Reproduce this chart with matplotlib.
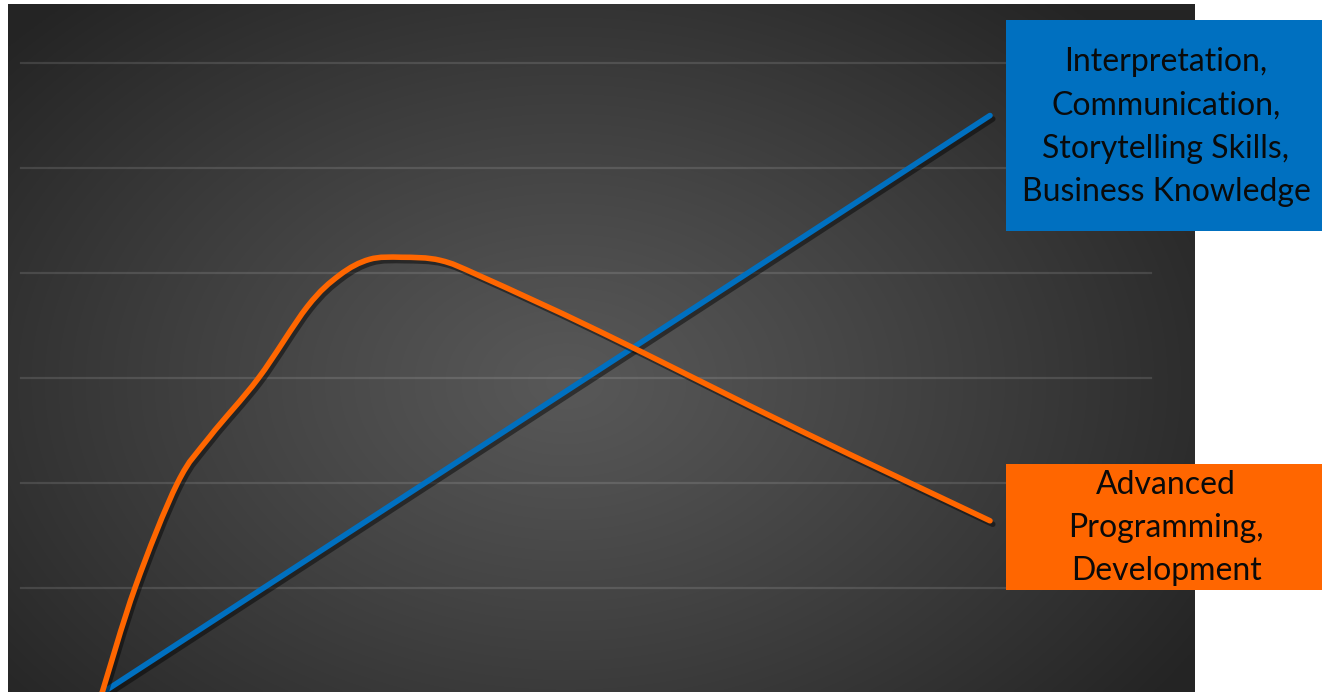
import numpy as np
import matplotlib
matplotlib.use('Agg')
import matplotlib.pyplot as plt
from matplotlib.patches import Rectangle, PathPatch
from matplotlib.path import Path
import matplotlib.patheffects as pe

# data (x: arbitrary progression units, y: grid units)
tech_x = [0.00, 0.30, 0.68, 0.97, 1.41, 1.85, 2.14, 2.41, 2.70, 3.05, 3.43,
          4.49, 6.29, 8.00]
tech_y = [0.00, 1.01, 2.00, 2.44, 3.00, 3.68, 3.98, 4.13, 4.15, 4.12, 3.96,
          3.44, 2.50, 1.64]
soft_x = [0.0, 8.0]
soft_y = [0.0, 5.50]
grid_levels = [1, 2, 3, 4, 5, 6]

soft_label = 'Interpretation,\nCommunication,\nStorytelling Skills,\nBusiness Knowledge'
tech_label = 'Advanced\nProgramming,\nDevelopment'

BLUE = '#0070C0'
ORANGE = '#FF6600'

plt.rcParams['font.family'] = ['Lato', 'DejaVu Sans']


def smooth_path(xs, ys):
    # Catmull-Rom through the points, drawn as cubic Bezier segments
    p = np.column_stack([xs, ys]).astype(float)
    pts = np.vstack([p[0], p, p[-1]])
    verts, codes = [p[0]], [Path.MOVETO]
    for i in range(1, len(pts) - 2):
        c1 = pts[i] + (pts[i + 1] - pts[i - 1]) / 6
        c2 = pts[i + 1] - (pts[i + 2] - pts[i]) / 6
        verts += [c1, c2, pts[i + 1]]
        codes += [Path.CURVE4] * 3
    return Path(verts, codes)


W, H = 1322, 692
fig = plt.figure(figsize=(W / 100, H / 100), dpi=100)
fig.patch.set_facecolor('white')

# axes spans px 8..1195 horizontally, 4..692 vertically
ax = fig.add_axes([8 / W, 0, (1195 - 8) / W, (692 - 4) / H])
xlim = ((8 - 102) / 111, (1195 - 102) / 111)
ylim = (1 / 105, (693 - 4) / 105)
ax.set_xlim(*xlim)
ax.set_ylim(*ylim)
ax.axis('off')

# radial gradient backdrop
gx, gy = np.meshgrid(np.linspace(0, 1, 400), np.linspace(0, 1, 240))
r = np.sqrt(((gx - 0.47) / 0.62) ** 2 + ((gy - 0.55) / 0.75) ** 2)
r = np.clip(r, 0, 1)
shade = (0.345 - (0.345 - 0.145) * r ** 1.1)
bg = np.dstack([shade, shade, shade])
ax.imshow(bg, extent=[xlim[0], xlim[1], ylim[0], ylim[1]], origin='upper',
          aspect='auto', zorder=0, interpolation='bilinear')

for lvl in grid_levels:
    ax.plot([(21 - 102) / 111, (1151 - 102) / 111], [lvl, lvl],
            color='white', alpha=0.12, linewidth=1.6, zorder=1)

shadow = [pe.SimpleLineShadow(offset=(2, -2.5), shadow_color='black', alpha=0.45),
          pe.Normal()]
ax.plot(soft_x, soft_y, color=BLUE, linewidth=4.0, solid_capstyle='round',
        path_effects=shadow, zorder=3)
tech = PathPatch(smooth_path(tech_x, tech_y), fill=False, edgecolor=ORANGE,
                 linewidth=4.0, capstyle='round', joinstyle='round',
                 path_effects=shadow, zorder=4)
ax.add_patch(tech)

# label boxes on the right
fig.patches.append(Rectangle((1006 / W, 1 - 231 / H), (W - 1006) / W, (231 - 20) / H,
                             transform=fig.transFigure, facecolor=BLUE,
                             edgecolor='none', zorder=5))
fig.patches.append(Rectangle((1006 / W, 1 - 590 / H), (W - 1006) / W, (590 - 464) / H,
                             transform=fig.transFigure, facecolor=ORANGE,
                             edgecolor='none', zorder=5))
txt_kw = dict(ha='center', va='center', fontsize=23, color='#0a0a0a',
              linespacing=1.56, zorder=6)
fig.text(1166 / W, 1 - 127 / H, soft_label, **txt_kw)
fig.text(1166 / W, 1 - 528 / H, tech_label, **txt_kw)

fig.savefig('out.png', dpi=100)
